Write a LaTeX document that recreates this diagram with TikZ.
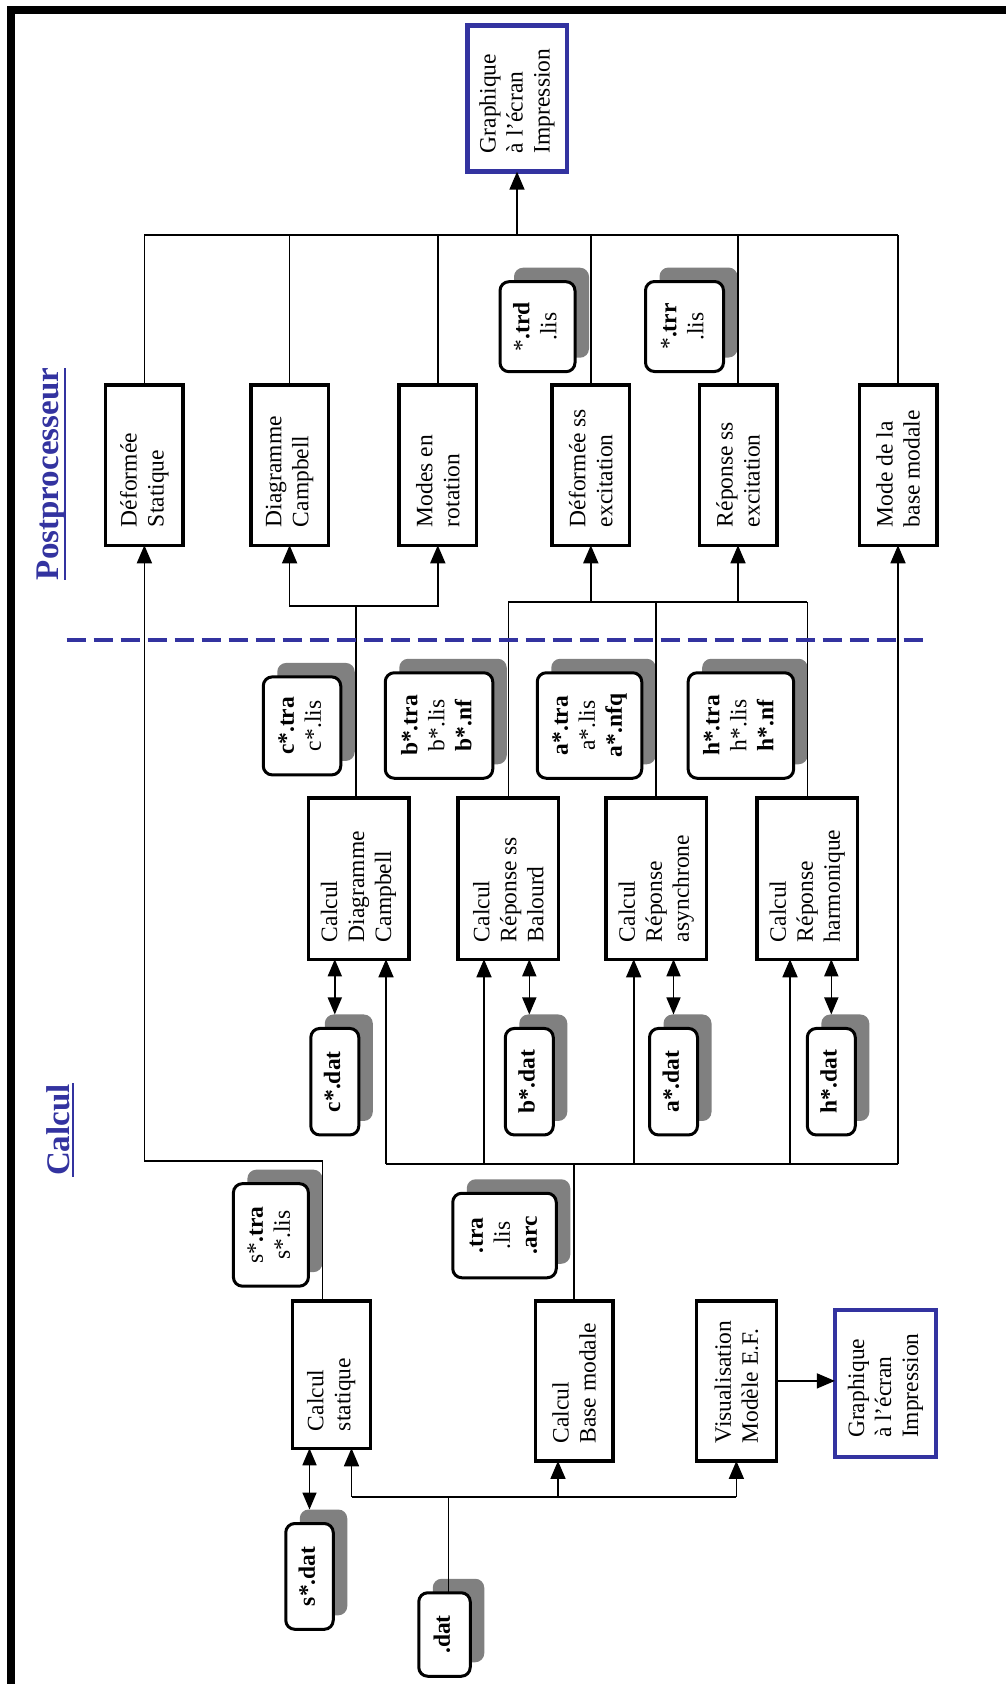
\documentclass[tikz,border=0pt]{standalone}
\usepackage{fontspec}
\setmainfont{Liberation Serif}
\usepackage{graphicx}
\usetikzlibrary{arrows.meta,shadows,calc}
\definecolor{dblue}{RGB}{51,51,160}
\definecolor{shgray}{RGB}{128,128,128}
\newcommand{\vtxt}[2]{\rotatebox{90}{\parbox{#1}{\raggedright #2}}}
\newcommand{\ctxt}[1]{\rotatebox{90}{\begin{tabular}{@{}c@{}}#1\end{tabular}}}
\begin{document}
\begin{tikzpicture}[x=1pt,y=-1pt,
  every node/.style={inner sep=0pt, outer sep=0pt},
  txt/.style={font=\fontsize{23.5}{27}\selectfont},
  proc/.style={txt, draw, line width=3.5pt, fill=white},
  gbox/.style={txt, draw=dblue, line width=4.5pt, fill=white},
  file/.style={txt, draw, line width=3pt, fill=white, rounded corners=9pt,
    general shadow={shadow xshift=14pt, shadow yshift=14pt, fill=shgray}},
  conn/.style={line width=1.6pt},
  arr/.style={conn, -{Triangle[length=18pt,width=15pt]}},
  darr/.style={conn, {Triangle[length=17pt,width=14pt]}-{Triangle[length=17pt,width=14pt]}},
  title/.style={font=\fontsize{33}{36}\selectfont\bfseries, text=dblue, rotate=90, anchor=base},
]
\useasboundingbox (0,0) rectangle (1006,1684);
\fill[white] (0,0) rectangle (1006,1684);
% frame
\fill (7,6) rectangle (1006,14);
\fill (7,6) rectangle (15,1684);

% titles
\node[title] (tpost) at (58.5,474) {Postprocesseur};
\draw[dblue, line width=2.5pt] (65,368) -- (65,580);
\node[title] (tcalc) at (69,1130) {Calcul};
\draw[dblue, line width=2.5pt] (73,1083) -- (73,1177);

% output box top
\node[gbox, minimum width=99.5pt, minimum height=146pt] (G1) at (517,98.7)
  {\vtxt{109pt}{Graphique\\à l'écran\\Impression}};

% postprocessor boxes
\node[proc, minimum width=77.5pt, minimum height=160.5pt] (P1) at (144.4,465) {\vtxt{124pt}{Déformée\\Statique}};
\node[proc, minimum width=77.5pt, minimum height=160.5pt] (P2) at (289.6,465) {\vtxt{124pt}{Diagramme\\Campbell}};
\node[proc, minimum width=77.5pt, minimum height=160.5pt] (P3) at (437.8,465) {\vtxt{124pt}{Modes en\\rotation}};
\node[proc, minimum width=77.5pt, minimum height=160.5pt] (P4) at (590.8,465) {\vtxt{124pt}{Déformée ss\\excitation}};
\node[proc, minimum width=77.5pt, minimum height=160.5pt] (P5) at (738,465) {\vtxt{124pt}{Réponse ss\\excitation}};
\node[proc, minimum width=77.5pt, minimum height=160.5pt] (P6) at (898,465) {\vtxt{124pt}{Mode de la\\base modale}};

% postprocessor result files
\node[file, minimum width=75pt, minimum height=90pt] (Ftrd) at (537.5,326.7) {\ctxt{*\textbf{.trd}\\*.lis}};
\node[file, minimum width=78pt, minimum height=90pt] (Ftrr) at (684.5,326.5) {\ctxt{*\textbf{.trr}\\*.lis}};

% calcul boxes
\node[proc, minimum width=100.5pt, minimum height=161.5pt] (C1) at (358.5,878.5) {\vtxt{127pt}{Calcul\\Diagramme\\Campbell}};
\node[proc, minimum width=100.5pt, minimum height=161.5pt] (C2) at (508.4,878.5) {\vtxt{127pt}{Calcul\\Réponse ss\\Balourd}};
\node[proc, minimum width=100.5pt, minimum height=161.5pt] (C3) at (656.2,878.5) {\vtxt{127pt}{Calcul\\Réponse\\asynchrone}};
\node[proc, minimum width=100.5pt, minimum height=161.5pt] (C4) at (807.3,878.5) {\vtxt{127pt}{Calcul\\Réponse\\harmonique}};

% calcul result files
\node[file, minimum width=77.5pt, minimum height=98pt] (R1) at (302,725.9) {\ctxt{\textbf{c*.tra}\\c*.lis}};
\node[file, minimum width=107.5pt, minimum height=105.5pt] (R2) at (439,725.5) {\ctxt{\textbf{b*.tra}\\b*.lis\\\textbf{b*.nf}}};
\node[file, minimum width=104.5pt, minimum height=105.5pt] (R3) at (589.5,725.5) {\ctxt{\textbf{a*.tra}\\a*.lis\\\textbf{a*.nfq}}};
\node[file, minimum width=105.5pt, minimum height=105.5pt] (R4) at (740.9,725.5) {\ctxt{\textbf{h*.tra}\\h*.lis\\\textbf{h*.nf}}};

% data files
\node[file, minimum width=48pt, minimum height=106.5pt] (D1) at (334.8,1081.7) {\ctxt{\textbf{c*.dat}}};
\node[file, minimum width=48pt, minimum height=106.5pt] (D2) at (529.3,1081.7) {\ctxt{\textbf{b*.dat}}};
\node[file, minimum width=48pt, minimum height=106.5pt] (D3) at (673.5,1081.7) {\ctxt{\textbf{a*.dat}}};
\node[file, minimum width=48pt, minimum height=106.5pt] (D4) at (831.3,1081.7) {\ctxt{\textbf{h*.dat}}};

% lower part
\node[file, minimum width=75pt, minimum height=102.5pt] (Str) at (270.9,1234.9) {\ctxt{s*\textbf{.tra}\\s*.lis}};
\node[file, minimum width=103.5pt, minimum height=84.5pt] (Btr) at (504.5,1235.5) {\ctxt{\textbf{.tra}\\.lis\\\textbf{.arc}}};
\node[proc, minimum width=78pt, minimum height=147.5pt] (CS) at (331.3,1374.5) {\vtxt{113pt}{Calcul\\statique}};
\node[proc, minimum width=77.3pt, minimum height=160pt] (CBM) at (574.1,1380.9) {\vtxt{125pt}{Calcul\\Base modale}};
\node[proc, minimum width=80pt, minimum height=160pt] (VIS) at (736.4,1380.9) {\vtxt{125pt}{Visualisation\\Modèle E.F.}};
\node[gbox, minimum width=101.3pt, minimum height=147pt] (G2) at (885.5,1383.4) {\vtxt{109pt}{Graphique\\à l'écran\\Impression}};
\node[file, minimum width=47.5pt, minimum height=105.8pt] (Sdat) at (309.5,1576.4) {\ctxt{\textbf{s*.dat}}};
\node[file, minimum width=51.5pt, minimum height=83.5pt] (Ddat) at (444.5,1634.5) {\ctxt{\textbf{.dat}}};

% ---------- connectors ----------
% top bus
\coordinate (tb) at (517,235);
\draw[conn] (P1.north |- tb) -- (P6.north |- tb);
\foreach \p in {P1,P2,P3,P4,P5,P6} { \draw[conn] (\p.north) -- (\p.north |- tb); }
\draw[arr] (tb) -- (G1.south);

% Campbell split
\coordinate (j1) at (356,606);
\draw[conn] (j1 |- C1.north) -- (j1);
\draw[arr] (j1) -| (P2.south);
\draw[arr] (j1) -| (P3.south);

% b/a/h bus
\coordinate (j2) at (500,601.7);
\foreach \c in {C2,C3,C4} { \draw[conn] (\c.north) -- (\c.north |- j2); }
\draw[conn] (C2.north |- j2) -- (C4.north |- j2);
\draw[arr] (P4.south |- j2) -- (P4.south);
\draw[arr] (P5.south |- j2) -- (P5.south);

% double arrows calcul <-> dat
\draw[darr] (C1.south -| D1.north) -- ([yshift=14pt]D1.north);
\draw[darr] (C2.south -| D2.north) -- ([yshift=14pt]D2.north);
\draw[darr] (C3.south -| D3.north) -- ([yshift=14pt]D3.north);
\draw[darr] (C4.south -| D4.north) -- ([yshift=14pt]D4.north);

% lower bus from base modale
\coordinate (bb1) at (386,1164);
\coordinate (bb2) at (484,1164);
\coordinate (bb3) at (633.7,1164);
\coordinate (bb4) at (790,1164);
\coordinate (bb5) at (898,1164);
\draw[conn] (bb1) -- (bb5);
\draw[arr] (bb1) -- (bb1 |- C1.south);
\draw[arr] (bb2) -- (bb2 |- C2.south);
\draw[arr] (bb3) -- (bb3 |- C3.south);
\draw[arr] (bb4) -- (bb4 |- C4.south);
\draw[arr] (bb5) -- (bb5 |- P6.south);
\draw[conn] (CBM.north) -- (CBM.north |- bb1);

% calcul statique to Deformee statique
\coordinate (j3) at (322.6,1160.8);
\draw[arr] (j3 |- CS.north) -- (j3) -| (P1.south);

% bottom bus from .dat
\coordinate (sb) at (351.5,1496.7);
\coordinate (sb2) at (558,1496.7);
\coordinate (sd) at (448.3,1496.7);
\draw[conn] (sb) -- (VIS.south |- sb);
\draw[arr] (sb) -- (sb |- CS.south);
\draw[arr] (sb2) -- (sb2 |- CBM.south);
\draw[arr] (VIS.south |- sb) -- (VIS.south);
\draw[conn] (sd) -- (sd |- Ddat.north);
\draw[darr] (CS.south -| Sdat.north) -- ([yshift=14pt]Sdat.north);
\draw[arr] (VIS.east) -- (VIS.east -| G2.west);

% separator
\coordinate (dl1) at (66.5,640);
\coordinate (dl2) at (928.7,640);
\draw[dblue, line width=3.5pt, dash pattern=on 19pt off 8pt] (dl1) -- (dl2);
\end{tikzpicture}
\end{document}
